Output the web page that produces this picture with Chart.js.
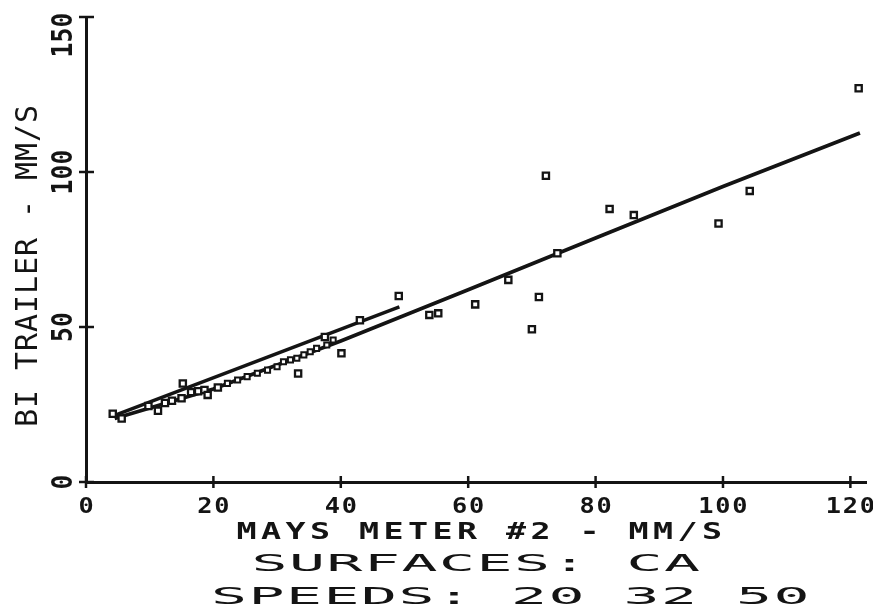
<!DOCTYPE html>
<html>
<head>
<meta charset="utf-8">
<title>BI Trailer vs Mays Meter #2</title>
<script src="https://cdn.jsdelivr.net/npm/chart.js@4.4.1/dist/chart.umd.min.js"></script>
<style>
  html, body { margin: 0; padding: 0; background: #fff; }
  canvas { display: block; }
</style>
</head>
<body>
<canvas id="chartMays" width="873" height="613"></canvas>
<script>
// Readings (mm/s): Mays meter #2 on x, BI trailer on y
const readingsX = [4.2, 5.6, 9.8, 11.3, 12.4, 13.5, 15.0, 15.2, 16.5, 17.6, 18.6, 19.1, 20.7,
  33.3, 37.5, 40.1, 43.0, 49.1, 53.9, 55.3, 61.1, 66.3, 70.0, 71.1, 72.2, 74.0,
  82.2, 86.0, 99.3, 104.2, 121.3];
const readingsY = [22.0, 20.5, 24.5, 23.0, 25.5, 26.2, 27.0, 31.8, 29.0, 29.3, 29.7, 28.1, 30.5,
  35.0, 46.8, 41.5, 52.2, 60.0, 53.9, 54.4, 57.3, 65.2, 49.3, 59.7, 98.8, 73.8,
  88.1, 86.1, 83.4, 93.9, 127.0];

// dense run of readings sitting on the lower line
const chainX = [22.2, 23.8, 25.3, 26.9, 28.5, 30.0, 31.0, 32.1, 33.1, 34.2, 35.2, 36.2, 37.8, 38.8];
const chainY = [31.8, 32.9, 34.0, 35.1, 36.1, 37.2, 38.8, 39.4, 39.9, 41.0, 42.0, 43.1, 44.2, 45.8];

// fitted lines
const fitAllX = [4.5, 20, 40, 60, 80, 100, 121.5];
const fitAllY = [20.5, 30, 45.5, 62, 78.7, 95.3, 112.6];
const fitLowX = [4.5, 49.2];
const fitLowY = [21.5, 56.5];

const xTicks = [0, 20, 40, 60, 80, 100, 120];
const yTicks = [0, 50, 100, 150];

const xTitle = 'MAYS METER #2 - MM/S';
const yTitle = 'BI TRAILER - MM/S';
const noteLines = ['SURFACES: CA', 'SPEEDS: 20 32 50'];

const INK = '#141414';
const MONO = '"DejaVu Sans Mono", monospace';

const toPoints = (xs, ys) => xs.map((v, i) => ({ x: v, y: ys[i] }));

// text with its cap height centred on y, fixed advance, glyphs stretched by sx
function plotText(ctx, text, x, y, size, advance, sx, align, weight) {
  ctx.save();
  ctx.font = (weight || 'normal') + ' ' + size + 'px ' + MONO;
  ctx.letterSpacing = (advance / sx - size * 0.602) + 'px';
  const w = advance * (text.length - 1) + size * 0.602 * sx;
  let x0 = x;
  if (align === 'center') x0 = x - w / 2;
  else if (align === 'right') x0 = x - w;
  ctx.translate(x0, y + size * 0.729 / 2);
  ctx.scale(sx, 1);
  ctx.textAlign = 'left';
  ctx.textBaseline = 'alphabetic';
  ctx.fillStyle = INK;
  ctx.fillText(text, 0, 0);
  ctx.restore();
}

const plotterText = {
  id: 'plotterText',
  afterDraw(chart) {
    const { ctx, chartArea } = chart;
    const sx = chart.scales.x, sy = chart.scales.y;
    ctx.save();
    ctx.strokeStyle = INK;
    ctx.lineWidth = 2.5;

    // tick crosses
    sx.ticks.forEach(t => {
      const px = sx.getPixelForValue(t.value);
      ctx.beginPath();
      ctx.moveTo(px, chartArea.bottom - 6);
      ctx.lineTo(px, chartArea.bottom + 6);
      ctx.stroke();
    });
    sy.ticks.forEach(t => {
      const py = sy.getPixelForValue(t.value);
      ctx.beginPath();
      ctx.moveTo(chartArea.left - 7, py);
      ctx.lineTo(chartArea.left + 8, py);
      ctx.stroke();
    });

    // x tick labels
    sx.ticks.forEach(t => {
      plotText(ctx, String(t.value), sx.getPixelForValue(t.value), 505, 22, 17, 1.15, 'center', 'bold');
    });

    // y tick labels, turned to read upwards
    sy.ticks.forEach(t => {
      const py = sy.getPixelForValue(t.value);
      const label = String(t.value);
      const w = 15 * (label.length - 1) + 28 * 0.602 * 0.85;
      ctx.save();
      ctx.translate(61, Math.max(py, 13 + w / 2));
      ctx.rotate(-Math.PI / 2);
      plotText(ctx, label, 0, 0, 29, 15, 0.85, 'center', '600');
      ctx.restore();
    });

    // axis titles
    ctx.save();
    ctx.translate(26, 266);
    ctx.rotate(-Math.PI / 2);
    plotText(ctx, yTitle, 0, 0, 30, 19, 1.0, 'center', 'normal');
    ctx.restore();
    plotText(ctx, xTitle, 236.5, 531, 23, 24.5, 1.45, 'left', 'bold');

    // notes under the plot
    plotText(ctx, noteLines[0], 251.5, 563, 23, 37.5, 2.6, 'left');
    plotText(ctx, noteLines[1], 211, 596, 23, 37.5, 2.6, 'left');
    ctx.restore();
  }
};

const ctxMays = document.getElementById('chartMays').getContext('2d');
new Chart(ctxMays, {
  type: 'scatter',
  data: {
    datasets: [
      {
        label: 'Readings',
        data: toPoints(readingsX, readingsY),
        pointStyle: 'rect',
        pointRadius: 4.4,
        borderWidth: 2.3,
        borderColor: INK,
        backgroundColor: '#fff',
        order: 0
      },
      {
        label: 'Readings on line',
        data: toPoints(chainX, chainY),
        pointStyle: 'rect',
        pointRadius: 3.6,
        borderWidth: 2,
        borderColor: INK,
        backgroundColor: '#fff',
        order: 0
      },
      {
        label: 'Fit all',
        data: toPoints(fitAllX, fitAllY),
        showLine: true,
        pointRadius: 0,
        borderWidth: 3.8,
        borderColor: INK,
        fill: false,
        tension: 0,
        order: 1
      },
      {
        label: 'Fit low',
        data: toPoints(fitLowX, fitLowY),
        showLine: true,
        pointRadius: 0,
        borderWidth: 3.5,
        borderColor: INK,
        fill: false,
        tension: 0,
        order: 1
      }
    ]
  },
  options: {
    responsive: false,
    animation: false,
    events: [],
    layout: { padding: { top: 17, right: 3, left: 0, bottom: 0 } },
    plugins: {
      legend: { display: false },
      tooltip: { enabled: false }
    },
    scales: {
      x: {
        type: 'linear',
        min: 0,
        max: 122.5,
        afterBuildTicks: s => { s.ticks = xTicks.map(v => ({ value: v })); },
        afterFit: s => { s.height = 131; },
        ticks: { display: false },
        grid: { display: false, drawTicks: false },
        border: { display: true, color: INK, width: 3 }
      },
      y: {
        type: 'linear',
        min: 0,
        max: 150,
        afterBuildTicks: s => { s.ticks = yTicks.map(v => ({ value: v })); },
        afterFit: s => { s.width = 86; },
        ticks: { display: false },
        grid: { display: false, drawTicks: false },
        border: { display: true, color: INK, width: 3 }
      }
    }
  },
  plugins: [plotterText]
});
</script>
</body>
</html>
